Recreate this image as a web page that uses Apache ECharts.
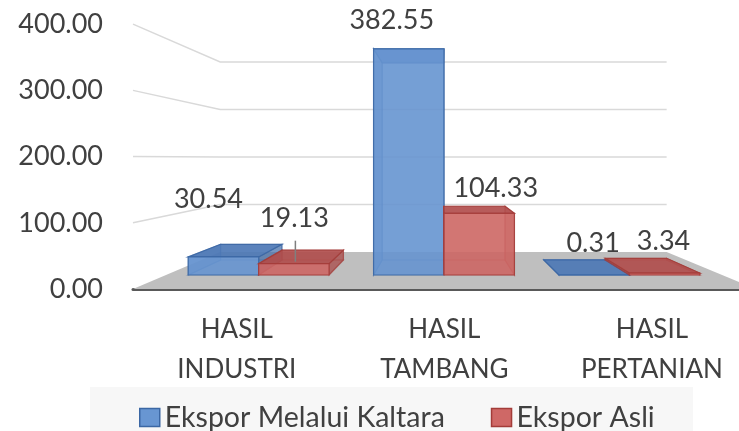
<!DOCTYPE html>
<html>
<head>
<meta charset="utf-8">
<script src="https://cdn.jsdelivr.net/npm/echarts@6/dist/echarts.min.js"></script>
<style>
html, body { margin: 0; padding: 0; background: #fff; }
#chart { width: 739px; height: 431px; }
</style>
</head>
<body>
<div id="chart"></div>
<script>
var categories = ['HASIL\nINDUSTRI', 'HASIL\nTAMBANG', 'HASIL\nPERTANIAN'];
var seriesNames = ['Ekspor Melalui Kaltara', 'Ekspor Asli'];
var kaltara = [30.54, 382.55, 0.31];
var asli = [19.13, 104.33, 3.34];
var yTicks = [0, 100, 200, 300, 400];

// perspective set-up (vanishing point + depth scales, relative to bar front plane)
var W = 739, H = 431;
var VX = 441, VY = 158;
var S_FRONT = 1.12, S_BAR_BACK = 0.872, S_WALL = 0.803;
var BAR_FRAC = 0.38;
var g0 = { left: 166, right: 17, top: 38.5, bottom: 156 };

// label offsets from the front-top centre of each bar
var labelOffsets = [
    [[-15, -58], [-17, -29], [-1, -32]],
    [[0.5, -45.5], [16.5, -25], [-1, -32]]
];
var leaders = [[null, null, null], [[1.5, -23, -2], null, null]];

var palette = [
    { front: '#6896d2', top: '#4d79b6', side: '#4670aa', border: '#3b67a4' },
    { front: '#cf6866', top: '#b14f4d', side: '#a84846', border: '#a33c39' }
];
var textColor = '#404040';
var fontFamily = 'Lato';

function proj(p, s) {
    return [VX + s * (p[0] - VX), VY + s * (p[1] - VY)];
}

var g1Left = VX + S_FRONT * (g0.left - VX);
var g1RightX = VX + S_FRONT * ((W - g0.right) - VX);
var g1Top = VY + S_FRONT * (g0.top - VY);
var g1BottomY = VY + S_FRONT * ((H - g0.bottom) - VY);

function renderWalls(params, api) {
    var cs = params.coordSys;
    var left = cs.x, right = cs.x + cs.width;
    var zeroY = api.coord([0, 0])[1];
    var children = [{
        type: 'polygon',
        shape: { points: [proj([left, zeroY], S_FRONT), proj([right, zeroY], S_FRONT),
                          proj([right, zeroY], S_WALL), proj([left, zeroY], S_WALL)] },
        style: { fill: '#bfbfbf' }
    }];
    yTicks.forEach(function (v) {
        if (v === 0) return;
        var y = api.coord([0, v])[1];
        var a = proj([left, y], S_FRONT), b = proj([left, y], S_WALL), c = proj([right, y], S_WALL);
        children.push({ type: 'polyline', shape: { points: [a, b, c] },
            style: { stroke: '#d9d9d9', lineWidth: 1.5, fill: null } });
    });
    return { type: 'group', children: children };
}

function makeBarRenderer(si) {
    var pal = palette[si];
    return function (params, api) {
        var cat = api.value(0), val = api.value(1);
        var band = api.size([1, 0])[0];
        var base = api.coord([cat, 0]);
        var top = api.coord([cat, val]);
        var w = band * BAR_FRAC;
        var x0 = si === 0 ? base[0] - w : base[0];
        var x1 = x0 + w;
        var yT = top[1], yB = base[1];
        function B(x, y) { return proj([x, y], S_BAR_BACK); }
        var faces = [
            { pts: [B(x0, yT), B(x1, yT), B(x1, yB), B(x0, yB)], fill: pal.side, op: 0.35 },
            { pts: [[x0, yB], [x1, yB], B(x1, yB), B(x0, yB)], fill: pal.side, op: 0.35 },
            { pts: [[x0, yT], [x0, yB], B(x0, yB), B(x0, yT)], fill: pal.side, op: 0.6 },
            { pts: [[x1, yT], [x1, yB], B(x1, yB), B(x1, yT)], fill: pal.side, op: 0.6 },
            { pts: [[x0, yT], [x1, yT], B(x1, yT), B(x0, yT)], fill: pal.top, op: 0.88 },
            { pts: [[x0, yT], [x1, yT], [x1, yB], [x0, yB]], fill: pal.front, op: 0.85 }
        ];
        var children = faces.map(function (f) {
            return { type: 'polygon', shape: { points: f.pts },
                style: { fill: f.fill, opacity: f.op, stroke: pal.border, lineWidth: 1.2 } };
        });
        var cx = (x0 + x1) / 2;
        var off = labelOffsets[si][cat];
        var ld = leaders[si][cat];
        if (ld) {
            children.push({ type: 'line', shape: { x1: cx + ld[0], y1: yT + ld[1], x2: cx + ld[0], y2: yT + ld[2] },
                style: { stroke: '#7f7f7f', lineWidth: 1.5 } });
        }
        children.push({ type: 'text', z2: 10,
            style: { text: val.toFixed(2), x: cx + off[0], y: yT + off[1], align: 'center',
                verticalAlign: 'middle', fontSize: 27, fontFamily: fontFamily, fill: textColor } });
        return { type: 'group', children: children };
    };
}

var chart = echarts.init(document.getElementById('chart'));

var option = {
    backgroundColor: '#fff',
    animation: false,
    graphic: [{
        type: 'rect', left: 90, top: 387, z: 0,
        shape: { width: 603, height: 44 },
        style: { fill: '#f7f7f7' }
    }],
    legend: {
        left: 134, top: 398,
        icon: 'rect', itemWidth: 20, itemHeight: 18, itemGap: 46,
        selectedMode: false,
        textStyle: { fontFamily: fontFamily, fontSize: 28.5, color: textColor },
        data: seriesNames.map(function (n, i) {
            return { name: n, itemStyle: { color: palette[i].front, borderColor: palette[i].border, borderWidth: 1.5 } };
        })
    },
    grid: [
        { left: g0.left, right: g0.right, top: g0.top, bottom: g0.bottom, outerBoundsMode: 'none' },
        { left: g1Left, right: W - g1RightX, top: g1Top, bottom: H - g1BottomY, outerBoundsMode: 'none' }
    ],
    xAxis: [
        { type: 'category', gridIndex: 0, data: categories, show: false },
        { type: 'category', gridIndex: 1, data: categories,
          axisTick: { show: false },
          axisLine: { lineStyle: { color: '#595959', width: 3 } },
          axisLabel: { interval: 0, margin: 21, lineHeight: 40, fontSize: 26, fontFamily: fontFamily, color: textColor } }
    ],
    yAxis: [
        { type: 'value', gridIndex: 0, min: 0, max: 400, interval: 100, show: false },
        { type: 'value', gridIndex: 1, min: 0, max: 400, interval: 100,
          axisLine: { show: false }, axisTick: { show: false }, splitLine: { show: false },
          axisLabel: { margin: 30, fontSize: 27, fontFamily: fontFamily, color: textColor,
              formatter: function (v) { return v.toFixed(2); } } }
    ],
    series: [
        { type: 'custom', xAxisIndex: 0, yAxisIndex: 0, z: 1, silent: true,
          data: [[0, 0]], renderItem: renderWalls },
        { type: 'custom', name: seriesNames[0], xAxisIndex: 0, yAxisIndex: 0, z: 2,
          itemStyle: { color: palette[0].front },
          data: kaltara.map(function (v, i) { return [i, v]; }), renderItem: makeBarRenderer(0) },
        { type: 'custom', name: seriesNames[1], xAxisIndex: 0, yAxisIndex: 0, z: 3,
          itemStyle: { color: palette[1].front },
          data: asli.map(function (v, i) { return [i, v]; }), renderItem: makeBarRenderer(1) }
    ]
};
chart.setOption(option);
</script>
</body>
</html>
